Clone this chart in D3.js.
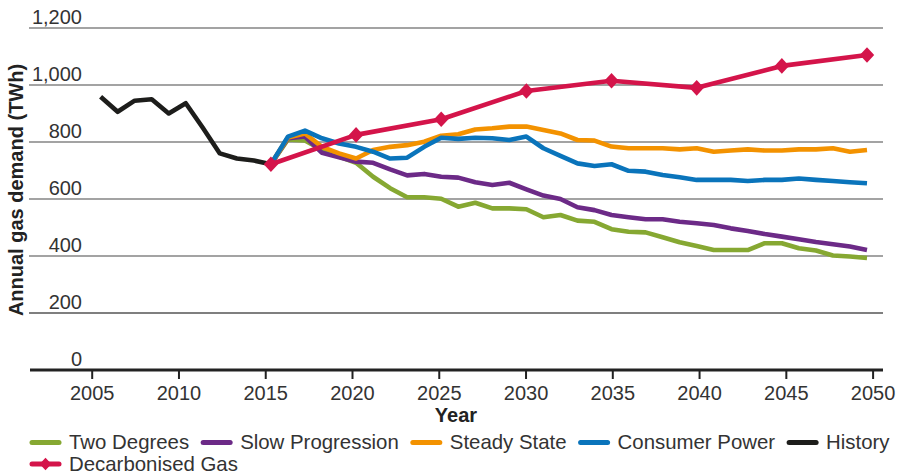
<!DOCTYPE html>
<html>
<head>
<meta charset="utf-8">
<script src="https://cdn.jsdelivr.net/npm/d3@7/dist/d3.min.js"></script>
<style>
  html, body { margin: 0; padding: 0; background: #fff; }
  svg { display: block; font-family: "Liberation Sans", Arial, Helvetica, sans-serif; }
</style>
</head>
<body>
<svg id="chart" width="901" height="474"></svg>
<script>
// Annual gas demand (TWh) by scenario, 2005–2050
const historyYears = d3.range(2005, 2016);
const historyValues = [959, 906, 945, 950, 900, 936, 850, 760, 742, 735, 722];

const scenarioYears = d3.range(2015, 2051);
const twoDegrees = [722, 809, 805, 772, 749, 727, 678, 638, 606, 606, 601, 573, 587, 567, 567, 564, 536, 544,
  524, 520, 494, 485, 483, 466, 448, 435, 421, 421, 421, 445, 445, 427, 419, 402, 398, 393];
const slowProgression = [722, 813, 819, 762, 746, 731, 727, 704, 683, 688, 678, 675, 659, 649, 657, 634, 612, 600,
  571, 561, 544, 536, 529, 529, 520, 515, 509, 497, 488, 477, 468, 459, 449, 441, 433, 421];
const steadyState = [722, 816, 830, 783, 760, 742, 772, 783, 789, 801, 822, 827, 844, 848, 854, 854, 842, 830,
  807, 805, 784, 778, 778, 778, 774, 778, 766, 770, 774, 770, 770, 774, 774, 778, 766, 772];
const consumerPower = [722, 819, 840, 813, 795, 783, 766, 742, 745, 783, 815, 811, 815, 813, 807, 819, 778, 751,
  725, 716, 722, 699, 696, 684, 676, 667, 667, 667, 663, 667, 667, 672, 667, 663, 659, 655];

const decarbYears = [2015, 2020, 2025, 2030, 2035, 2040, 2045, 2050];
const decarbonisedGas = [722, 825, 880, 979, 1015, 990, 1067, 1105];

const xTicks = d3.range(2005, 2051, 5);
const yTicks = [0, 200, 400, 600, 800, 1000, 1200];

const seriesNames = ["Two Degrees", "Slow Progression", "Steady State", "Consumer Power", "History", "Decarbonised Gas"];
const seriesColors = ["#86a832", "#6c2a87", "#f39200", "#0a74bb", "#1d1d1b", "#d4144a"];

const svg = d3.select("#chart");
const textColor = "#333333";

// Scales: data points sit slightly inside the tick positions of the year axis
const xAxisScale = d3.scaleLinear().domain([2005, 2050]).range([91.7, 872.6]);
const x = d3.scaleLinear().domain([2005, 2050]).range([100.6, 867]);
const y = d3.scaleLinear().domain([0, 1200]).range([370, 28]);
const plotLeft = 29, plotRight = 883;

// Horizontal gridlines
const grid = svg.append("g");
grid.selectAll("line").data(yTicks.filter(v => v > 0)).join("line")
  .attr("x1", plotLeft).attr("x2", plotRight)
  .attr("y1", d => y(d)).attr("y2", d => y(d))
  .attr("stroke", d => d === 200 ? "#555" : "#858585")
  .attr("stroke-width", 1.6);

// Y tick labels, sitting just above each gridline
svg.append("g").selectAll("text").data(yTicks).join("text")
  .attr("x", 82).attr("y", d => y(d) - 4)
  .attr("text-anchor", "end")
  .attr("font-size", 20)
  .attr("fill", textColor)
  .text(d => d3.format(",")(d));

// X axis
const xAxis = svg.append("g").attr("transform", `translate(0,${y(0)})`)
  .call(d3.axisBottom(xAxisScale).tickValues(xTicks).tickFormat(d3.format("d")).tickSize(9).tickPadding(7));
xAxis.select(".domain").remove();
xAxis.insert("line", ":first-child")
  .attr("x1", plotLeft + 1).attr("x2", plotRight).attr("y1", 0).attr("y2", 0)
  .attr("stroke", "#222").attr("stroke-width", 3);
xAxis.selectAll(".tick line").attr("stroke", "#222").attr("stroke-width", 2);
xAxis.selectAll(".tick text")
  .attr("font-size", 20).attr("fill", textColor)
  .attr("font-family", "Liberation Sans, Arial, sans-serif");

// Axis titles
svg.append("text")
  .attr("x", 456).attr("y", 422)
  .attr("text-anchor", "middle")
  .attr("font-size", 20).attr("font-weight", "bold")
  .attr("fill", "#222")
  .text("Year");

svg.append("text")
  .attr("transform", "translate(23,190) rotate(-90)")
  .attr("text-anchor", "middle")
  .attr("font-size", 20).attr("font-weight", "bold")
  .attr("fill", "#222")
  .text("Annual gas demand (TWh)");

// Lines
const line = d3.line().x(d => x(d[0])).y(d => y(d[1]));
const lineSeries = [
  { years: scenarioYears, values: twoDegrees, color: seriesColors[0] },
  { years: scenarioYears, values: slowProgression, color: seriesColors[1] },
  { years: scenarioYears, values: steadyState, color: seriesColors[2] },
  { years: scenarioYears, values: consumerPower, color: seriesColors[3] },
  { years: historyYears, values: historyValues, color: seriesColors[4] },
  { years: decarbYears, values: decarbonisedGas, color: seriesColors[5] }
];
svg.append("g").selectAll("path").data(lineSeries).join("path")
  .attr("d", s => line(s.years.map((yr, i) => [yr, s.values[i]])))
  .attr("fill", "none")
  .attr("stroke", s => s.color)
  .attr("stroke-width", 4.6)
  .attr("stroke-linejoin", "round")
  .attr("stroke-linecap", "butt");

// Diamond markers on the Decarbonised Gas series
const diamond = d3.symbol().type(d3.symbolSquare).size(104);
svg.append("g").selectAll("path").data(decarbYears.map((yr, i) => [yr, decarbonisedGas[i]])).join("path")
  .attr("d", diamond)
  .attr("transform", d => `translate(${x(d[0])},${y(d[1])}) scale(1,1.08) rotate(45)`)
  .attr("fill", seriesColors[5]);

// Legend
const legend = svg.append("g");
const rows = [[0, 1, 2, 3, 4], [5]];
const rowY = [442.5, 464];
rows.forEach((row, r) => {
  let cx = 32;
  row.forEach(i => {
    const g = legend.append("g").attr("transform", `translate(${cx},${rowY[r]})`);
    g.append("line").attr("x1", 0).attr("x2", 27).attr("y1", 0).attr("y2", 0)
      .attr("stroke", seriesColors[i]).attr("stroke-width", 5).attr("stroke-linecap", "round");
    if (i === 5) {
      g.append("path").attr("d", d3.symbol().type(d3.symbolSquare).size(70))
        .attr("transform", "translate(13.5,0) scale(1,1.05) rotate(45)")
        .attr("fill", seriesColors[i]);
    }
    const t = g.append("text").attr("x", 37).attr("y", 6.5)
      .attr("font-size", 20.4).attr("fill", textColor).text(seriesNames[i]);
    cx += 37 + t.node().getComputedTextLength() + 14;
  });
});
</script>
</body>
</html>
